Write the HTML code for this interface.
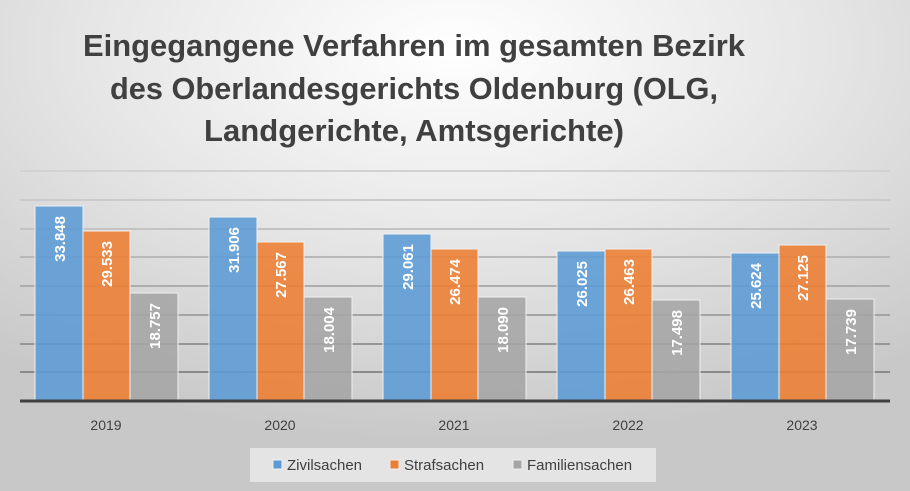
<!DOCTYPE html>
<html><head><meta charset="utf-8"><style>body{margin:0}svg{display:block}</style></head><body>
<svg width="910" height="491" xmlns="http://www.w3.org/2000/svg" font-family="Liberation Sans, sans-serif">
<defs>
<radialGradient id="bg" cx="0.5" cy="0.1" r="0.8">
<stop offset="0" stop-color="#ffffff"/><stop offset="0.5" stop-color="#e6e6e6"/><stop offset="1" stop-color="#c8c8c8"/></radialGradient>
</defs>
<rect width="910" height="491" fill="url(#bg)"/>
<g font-weight="bold" font-size="31" fill="#404040" text-anchor="middle">
<text x="414" y="56" textLength="662" lengthAdjust="spacingAndGlyphs">Eingegangene Verfahren im gesamten Bezirk</text>
<text x="414" y="99" textLength="608" lengthAdjust="spacingAndGlyphs">des Oberlandesgerichts Oldenburg (OLG,</text>
<text x="414" y="141" textLength="420" lengthAdjust="spacingAndGlyphs">Landgerichte, Amtsgerichte)</text>
</g>
<g stroke-width="2">
<line x1="20" x2="890" y1="171" y2="171" stroke="#d2d2d2"/>
<line x1="20" x2="890" y1="200" y2="200" stroke="#cbcbcb"/>
<line x1="20" x2="890" y1="229" y2="229" stroke="#c3c3c3"/>
<line x1="20" x2="890" y1="257" y2="257" stroke="#b8b8b8"/>
<line x1="20" x2="890" y1="286" y2="286" stroke="#adadad"/>
<line x1="20" x2="890" y1="315" y2="315" stroke="#a3a3a3"/>
<line x1="20" x2="890" y1="344" y2="344" stroke="#969696"/>
<line x1="20" x2="890" y1="372" y2="372" stroke="#8a8a8a"/>
</g>
<g id="bars" stroke="#f0f0f0" stroke-width="1" fill-opacity="0.88">
<!-- values/173.6 -->
<rect x="35" y="206" width="48" height="195" fill="#5b9bd5"/>
<rect x="83" y="231" width="47" height="170" fill="#ed7d31"/>
<rect x="130" y="293" width="48" height="108" fill="#a5a5a5"/>
<rect x="209" y="217" width="48" height="184" fill="#5b9bd5"/>
<rect x="257" y="242" width="47" height="159" fill="#ed7d31"/>
<rect x="304" y="297" width="48" height="104" fill="#a5a5a5"/>
<rect x="383" y="234" width="48" height="167" fill="#5b9bd5"/>
<rect x="431" y="249" width="47" height="152" fill="#ed7d31"/>
<rect x="478" y="297" width="48" height="104" fill="#a5a5a5"/>
<rect x="557" y="251" width="48" height="150" fill="#5b9bd5"/>
<rect x="605" y="249" width="47" height="152" fill="#ed7d31"/>
<rect x="652" y="300" width="48" height="101" fill="#a5a5a5"/>
<rect x="731" y="253" width="48" height="148" fill="#5b9bd5"/>
<rect x="779" y="245" width="47" height="156" fill="#ed7d31"/>
<rect x="826" y="299" width="48" height="102" fill="#a5a5a5"/>
</g>
<g fill="#fff" font-weight="bold" font-size="15" text-anchor="end">
<text transform="translate(65,216) rotate(-90)">33.848</text>
<text transform="translate(112,241) rotate(-90)">29.533</text>
<text transform="translate(160,303) rotate(-90)">18.757</text>
<text transform="translate(239,227) rotate(-90)">31.906</text>
<text transform="translate(286,252) rotate(-90)">27.567</text>
<text transform="translate(334,307) rotate(-90)">18.004</text>
<text transform="translate(413,244) rotate(-90)">29.061</text>
<text transform="translate(460,259) rotate(-90)">26.474</text>
<text transform="translate(508,307) rotate(-90)">18.090</text>
<text transform="translate(587,261) rotate(-90)">26.025</text>
<text transform="translate(634,259) rotate(-90)">26.463</text>
<text transform="translate(682,310) rotate(-90)">17.498</text>
<text transform="translate(761,263) rotate(-90)">25.624</text>
<text transform="translate(808,255) rotate(-90)">27.125</text>
<text transform="translate(856,309) rotate(-90)">17.739</text>
</g>
<line x1="20" x2="890" y1="401" y2="401" stroke="#404040" stroke-width="3"/>
<g font-size="14" fill="#404040" text-anchor="middle">
<text x="106" y="430">2019</text><text x="280" y="430">2020</text><text x="454" y="430">2021</text><text x="628" y="430">2022</text><text x="802" y="430">2023</text>
</g>
<rect x="250" y="448" width="406" height="34" fill="#e4e4e4"/>
<g font-size="15" fill="#404040">
<rect x="273" y="460" width="9" height="9" fill="#5b9bd5" stroke="#f0f0f0"/><text x="287" y="470">Zivilsachen</text>
<rect x="390" y="460" width="9" height="9" fill="#ed7d31" stroke="#f0f0f0"/><text x="404" y="470">Strafsachen</text>
<rect x="513" y="460" width="9" height="9" fill="#a5a5a5" stroke="#f0f0f0"/><text x="527" y="470">Familiensachen</text>
</g>
</svg>
</body></html>
